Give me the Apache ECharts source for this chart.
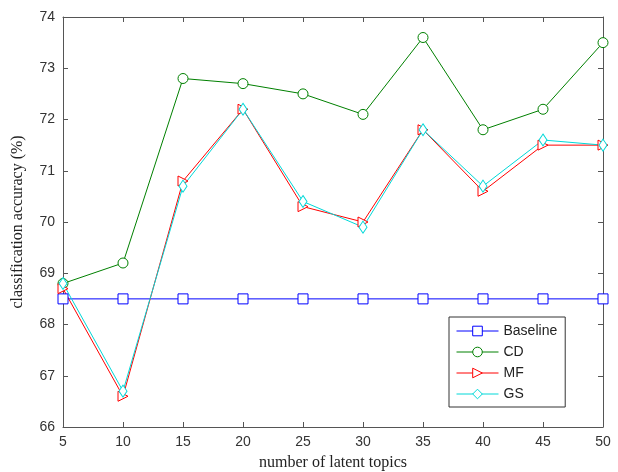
<!DOCTYPE html>
<html>
<head>
<meta charset="utf-8">
<script src="https://cdn.jsdelivr.net/npm/echarts@6/dist/echarts.min.js"></script>
<style>
  html, body { margin: 0; padding: 0; background: #fff; }
  #main { width: 618px; height: 472px; }
</style>
</head>
<body>
<div id="main"></div>
<script>
var topics = [5, 10, 15, 20, 25, 30, 35, 40, 45, 50];
var baseline = [68.5, 68.5, 68.5, 68.5, 68.5, 68.5, 68.5, 68.5, 68.5, 68.5];
var cd = [68.8, 69.2, 72.8, 72.7, 72.5, 72.1, 73.6, 71.8, 72.2, 73.5];
var mf = [68.7, 66.6, 70.8, 72.2, 70.3, 70.0, 71.8, 70.6, 71.5, 71.5];
var gs = [68.8, 66.7, 70.7, 72.2, 70.4, 69.9, 71.8, 70.7, 71.6, 71.5];

function pairs(vals) {
    var out = [];
    for (var i = 0; i < topics.length; i++) out.push([topics[i], vals[i]]);
    return out;
}

function line(name, vals, color, symbol, size, rotate) {
    return {
        name: name,
        type: 'line',
        data: pairs(vals),
        symbol: symbol,
        symbolSize: size,
        symbolRotate: rotate || 0,
        showAllSymbol: true,
        lineStyle: { color: color, width: 1 },
        itemStyle: { color: '#fff', borderColor: color, borderWidth: 1 },
        emphasis: { disabled: true },
        animation: false
    };
}

var myChart = echarts.init(document.getElementById('main'));
var tickText = { color: '#333', fontFamily: 'Liberation Sans', fontSize: 14 };
option = {
    backgroundColor: '#fff',
    grid: { left: 63, right: 15, top: 17, bottom: 45, outerBoundsMode: 'none' },
    legend: {
        orient: 'vertical',
        left: 449,
        top: 317,
        padding: [7, 8, 6, 7],
        itemGap: 7,
        itemWidth: 42,
        itemHeight: 12,
        lineStyle: { width: 1 },
        itemStyle: { borderWidth: 1 },
        backgroundColor: '#fff',
        borderColor: '#333',
        borderWidth: 1,
        textStyle: { color: '#222', fontFamily: 'Liberation Sans', fontSize: 14, padding: [2, 0, 2, 0] },
        data: ['Baseline', 'CD', 'MF', 'GS']
    },
    xAxis: [{
        type: 'value',
        min: 5, max: 50, interval: 5,
        name: 'number of latent topics',
        nameLocation: 'middle',
        nameGap: 28,
        nameTextStyle: { fontFamily: 'Liberation Serif', fontSize: 16, color: '#222' },
        axisLine: { lineStyle: { color: '#555' } },
        axisTick: { inside: true, length: 5, lineStyle: { color: '#555' } },
        axisLabel: tickText,
        splitLine: { show: false }
    }, {
        type: 'value', position: 'top',
        min: 5, max: 50, interval: 5,
        axisLine: { show: true, lineStyle: { color: '#555' } },
        axisTick: { show: true, inside: true, length: 5, lineStyle: { color: '#555' } },
        axisLabel: { show: false },
        splitLine: { show: false }
    }],
    yAxis: [{
        type: 'value',
        min: 66, max: 74, interval: 1,
        name: 'classification accuracy (%)',
        nameLocation: 'middle',
        nameGap: 37,
        nameTextStyle: { fontFamily: 'Liberation Serif', fontSize: 16, color: '#222' },
        axisLine: { show: true, lineStyle: { color: '#555' } },
        axisTick: { show: true, inside: true, length: 5, lineStyle: { color: '#555' } },
        axisLabel: tickText,
        splitLine: { show: false }
    }, {
        type: 'value', position: 'right',
        min: 66, max: 74, interval: 1,
        axisLine: { show: true, lineStyle: { color: '#555' } },
        axisTick: { show: true, inside: true, length: 5, lineStyle: { color: '#555' } },
        axisLabel: { show: false },
        splitLine: { show: false }
    }],
    series: [
        line('Baseline', baseline, '#0000ff', 'rect', 10),
        line('CD', cd, '#008000', 'circle', 10),
        line('MF', mf, '#ff0000', 'triangle', 10, -90),
        line('GS', gs, '#00d8d8', 'diamond', [8, 12])
    ]
};
myChart.setOption(option);
</script>
</body>
</html>
